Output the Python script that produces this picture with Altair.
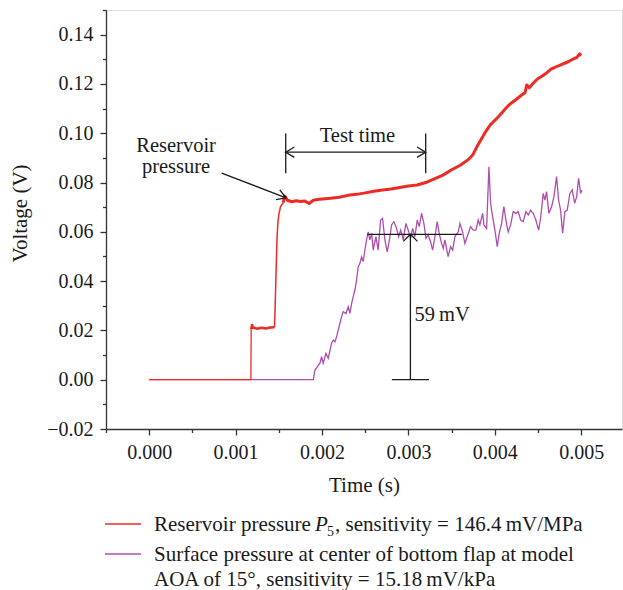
import altair as alt
import pandas as pd

FONT = "Liberation Serif"
RED = "#ee2a24"
PURPLE = "#b04cae"
INK = "#1a1a1a"

# ---- Reservoir pressure P5 (red) ----
red_t = [0.0, 0.001177, 0.00118,
         0.00118, 0.00119, 0.0012, 0.00125, 0.0013, 0.00135, 0.0014, 0.00145,
         0.00145, 0.001455, 0.00147, 0.00148, 0.00149, 0.0015, 0.00152, 0.00155,
         0.00155, 0.00157, 0.0016, 0.00165, 0.0017, 0.00175, 0.0018, 0.00185, 0.0019, 0.00195,
         0.002, 0.0021, 0.0022, 0.0023, 0.0024, 0.0025, 0.0026, 0.0027, 0.0028, 0.0029,
         0.003, 0.0031, 0.0032, 0.0033, 0.0034, 0.0035, 0.0036, 0.0037, 0.00375, 0.0038,
         0.00385, 0.0039, 0.00395, 0.004, 0.00405, 0.0041, 0.00415, 0.0042, 0.00425, 0.0043,
         0.00435, 0.00437, 0.0044, 0.00445, 0.0045, 0.00455, 0.0046, 0.00465, 0.0047, 0.00475,
         0.0048, 0.00485, 0.0049, 0.00495, 0.00498, 0.005]
red_v = [0.0, 0.0, 0.0205,
         0.0205, 0.0222, 0.0212, 0.0207, 0.0211, 0.0208, 0.0212, 0.0213,
         0.0213, 0.026, 0.046, 0.058, 0.064, 0.067, 0.0702, 0.0718,
         0.0718, 0.0745, 0.0728, 0.0722, 0.0726, 0.0723, 0.0725, 0.0715, 0.0728, 0.0731,
         0.0733, 0.0736, 0.0740, 0.0748, 0.0752, 0.0758, 0.0765, 0.0770, 0.0774, 0.0780,
         0.0786, 0.0790, 0.0800, 0.0815, 0.0830, 0.0852, 0.0870, 0.0895, 0.0915, 0.0950,
         0.0980, 0.1010, 0.1035, 0.1052, 0.1070, 0.1090, 0.1110, 0.1125, 0.1138, 0.1152,
         0.1165, 0.1196, 0.1185, 0.1205, 0.1222, 0.1232, 0.1245, 0.1260, 0.1268, 0.1275,
         0.1283, 0.1290, 0.1300, 0.1308, 0.1322, 0.1315]
red_seg = (["base"] * 3 + ["step"] * 8 + ["rise"] * 8 + ["main"] * 56)
seg_width = {"base": 1.3, "step": 2.6, "rise": 1.5, "main": 3.0}

# ---- Surface pressure, bottom flap (purple) ----
purple_t = [0.0, 0.0019, 0.001918, 0.001976, 0.001995, 0.002014, 0.002045, 0.002072, 0.002111, 0.00213,
            0.00215, 0.002169, 0.002207, 0.002227, 0.002245, 0.002277, 0.002303, 0.002323, 0.002343, 0.002361,
            0.002381, 0.0024, 0.002419, 0.002439, 0.002458, 0.002477, 0.002496, 0.002516, 0.002535, 0.002554,
            0.002574, 0.002593, 0.002624, 0.00265, 0.002678, 0.002701, 0.002728, 0.002755, 0.002786, 0.002805,
            0.002832, 0.002863, 0.002887, 0.00291, 0.00294, 0.002971, 0.002998, 0.003025, 0.003049, 0.003075,
            0.003102, 0.003125, 0.003153, 0.003179, 0.003203, 0.003229, 0.003257, 0.00328, 0.003307, 0.003333,
            0.003356, 0.003384, 0.003403, 0.003422, 0.00346, 0.003488, 0.003512, 0.003538, 0.003576, 0.003596,
            0.003627, 0.003654, 0.00368, 0.00372, 0.00375, 0.003781, 0.003808, 0.003827, 0.003859, 0.003874,
            0.003905, 0.003932, 0.003951, 0.003975, 0.004001, 0.004028, 0.004051, 0.004079, 0.004105, 0.004128,
            0.004155, 0.004183, 0.004213, 0.004244, 0.004271, 0.004299, 0.004329, 0.00436, 0.004387, 0.004414,
            0.004444, 0.004475, 0.004507, 0.00453, 0.00456, 0.00458, 0.004599, 0.004626, 0.004657, 0.004684,
            0.004715, 0.004738, 0.004761, 0.004785, 0.004811, 0.004838, 0.004869, 0.004896, 0.004924, 0.004947,
            0.00497, 0.004993, 0.005008]
purple_v = [0.0, 0.0, 0.0039, 0.0067, 0.0093, 0.0067, 0.0107, 0.0087, 0.0148, 0.0161,
            0.0154, 0.0174, 0.0229, 0.0256, 0.0276, 0.0269, 0.0296, 0.0269, 0.0310, 0.0337,
            0.0364, 0.0404, 0.0458, 0.0472, 0.0499, 0.0479, 0.0526, 0.0567, 0.0600, 0.0567,
            0.0594, 0.0526, 0.0580, 0.0526, 0.0648, 0.0655, 0.0567, 0.0519, 0.0580, 0.0628,
            0.0641, 0.0614, 0.0580, 0.0607, 0.0567, 0.0634, 0.0607, 0.0574, 0.0614, 0.0580,
            0.0648, 0.0621, 0.0675, 0.0634, 0.0574, 0.0587, 0.0560, 0.0526, 0.0580, 0.0641,
            0.0594, 0.0553, 0.0533, 0.0567, 0.0499, 0.0540, 0.0526, 0.0580, 0.0600, 0.0634,
            0.0600, 0.0553, 0.0580, 0.0621, 0.0607, 0.0607, 0.0648, 0.0628, 0.0675, 0.0628,
            0.0614, 0.0864, 0.0716, 0.0661, 0.0607, 0.0540, 0.0594, 0.0634, 0.0702, 0.0648,
            0.0600, 0.0628, 0.0682, 0.0675, 0.0682, 0.0648, 0.0641, 0.0682, 0.0668, 0.0688,
            0.0675, 0.0648, 0.0607, 0.0655, 0.0756, 0.0729, 0.0763, 0.0675, 0.0702, 0.0742,
            0.0824, 0.0729, 0.0688, 0.0594, 0.0682, 0.0688, 0.0756, 0.0770, 0.0716, 0.0742,
            0.0817, 0.0756, 0.0770]

# ---- axis ticks ----
x_major = [0.000, 0.001, 0.002, 0.003, 0.004, 0.005]
x_minor = [-0.0005, 0.0005, 0.0015, 0.0025, 0.0035, 0.0045]
y_major = [-0.02, 0.00, 0.02, 0.04, 0.06, 0.08, 0.10, 0.12, 0.14]
y_minor = [-0.01, 0.01, 0.03, 0.05, 0.07, 0.09, 0.11, 0.13, 0.15]

# ---- annotations (data coordinates) ----
test_start, test_end, test_level = 0.00158, 0.0032, 0.0923
bar_low, bar_high = 0.0838, 0.0999
res_arrow_from = (0.000839, 0.0838)
res_arrow_to = (0.001583, 0.0738)
mv_level, mv_t = 0.059, 0.003023
mv_top_span = (0.002522, 0.003618)
mv_bot_span = (0.002808, 0.003238)

red_df = pd.DataFrame({"t": red_t, "v": red_v, "seg": red_seg,
                       "w": [seg_width[s] for s in red_seg],
                       "i": list(range(len(red_t)))})
purple_df = pd.DataFrame({"t": purple_t, "v": purple_v, "i": list(range(len(purple_t)))})

lines_df = pd.DataFrame({
    "t":  [test_start, test_end, test_start, res_arrow_from[0], mv_top_span[0], mv_t, mv_bot_span[0]],
    "v":  [bar_low, bar_low, test_level, res_arrow_from[1], mv_level, 0.0, 0.0],
    "t2": [test_start, test_end, test_end, res_arrow_to[0], mv_top_span[1], mv_t, mv_bot_span[1]],
    "v2": [bar_high, bar_high, test_level, res_arrow_to[1], mv_level, mv_level, 0.0],
})

LEFT = "M 1 -0.6 L 0 0 L 1 0.6"
RIGHT = "M -1 -0.6 L 0 0 L -1 0.6"
UP = "M -1 1 L 0 0 L 1 1"
heads_df = pd.DataFrame({
    "t": [test_start, test_end, res_arrow_to[0], mv_t],
    "v": [test_level, test_level, res_arrow_to[1], mv_level],
    "path": [LEFT, RIGHT, RIGHT, UP],
    "ang": [0, 0, 21, 0],
    "sz": [300, 300, 300, 200],
})

labels_df = pd.DataFrame({
    "t": [0.00241, 0.000311, 0.000311],
    "v": [0.0989, 0.0948, 0.0862],
    "txt": ["Test time", "Reservoir", "pressure"],
})
mv_label_df = pd.DataFrame({"t": [0.00307], "v": [0.0262], "txt": ["59\u2009mV"]})

XS = alt.Scale(domain=[-0.0005, 0.005472], nice=False, zero=False)
YS = alt.Scale(domain=[-0.02, 0.15], nice=False, zero=False)

axis_common = dict(grid=False, domainColor="#333333", domainWidth=1.3, tickColor="#333333",
                   tickWidth=1.3, labelFont=FONT, labelFontSize=20, labelColor=INK,
                   titleFont=FONT, titleFontSize=21, titleColor=INK, titleFontWeight="normal")

x_main_axis = alt.Axis(values=x_major, format=".3f", orient="bottom", tickSize=6, labelPadding=7,
                       title="Time (s)", titlePadding=12, **axis_common)
y_main_axis = alt.Axis(values=y_major, format=".2f", orient="left", tickSize=6, labelPadding=7,
                       title="Voltage (V)", titleAngle=270, titleAlign="center", titleBaseline="middle",
                       titleX=-86, titleY=203, **axis_common)
x_minor_axis = alt.Axis(values=x_minor, orient="bottom", tickSize=3.5, labels=False, domain=False,
                        title="", grid=False, tickColor="#333333", tickWidth=1.3)
y_minor_axis = alt.Axis(values=y_minor, orient="left", tickSize=3.5, labels=False, domain=False,
                        title="", grid=False, tickColor="#333333", tickWidth=1.3)

red_line = alt.Chart(red_df).mark_line(color=RED, strokeJoin="round").encode(
    x=alt.X("t:Q", scale=XS, axis=x_main_axis),
    y=alt.Y("v:Q", scale=YS, axis=y_main_axis),
    detail="seg:N",
    order="i:Q",
    strokeWidth=alt.StrokeWidth("w:Q", scale=None, legend=None),
)

purple_line = alt.Chart(purple_df).mark_line(color=PURPLE, strokeWidth=1.3).encode(
    x=alt.X("t:Q", scale=XS, axis=x_minor_axis),
    y=alt.Y("v:Q", scale=YS, axis=y_minor_axis),
    order="i:Q",
)

ann_lines = alt.Chart(lines_df).mark_rule(color=INK, strokeWidth=1.3).encode(
    x=alt.X("t:Q", scale=XS, axis=None), y=alt.Y("v:Q", scale=YS, axis=None),
    x2="t2:Q", y2="v2:Q",
)

ann_heads = alt.Chart(heads_df).mark_point(filled=False, color=INK, strokeWidth=1.3, opacity=1).encode(
    x=alt.X("t:Q", scale=XS, axis=None), y=alt.Y("v:Q", scale=YS, axis=None),
    shape=alt.Shape("path:N", scale=None, legend=None),
    angle=alt.Angle("ang:Q", scale=None),
    size=alt.Size("sz:Q", scale=None, legend=None),
)

ann_text = alt.Chart(labels_df).mark_text(font=FONT, fontSize=20.5, color=INK, align="center",
                                          baseline="middle").encode(
    x=alt.X("t:Q", scale=XS, axis=None), y=alt.Y("v:Q", scale=YS, axis=None), text="txt:N",
)
mv_text = alt.Chart(mv_label_df).mark_text(font=FONT, fontSize=20.5, color=INK, align="left",
                                           baseline="middle").encode(
    x=alt.X("t:Q", scale=XS, axis=None), y=alt.Y("v:Q", scale=YS, axis=None), text="txt:N",
)

# ---- legend (below the plot) ----
one = pd.DataFrame({"k": [0]})
leg_red = alt.Chart(one).mark_rule(color=RED, strokeWidth=1.5).encode(
    x=alt.value(-1), x2=alt.value(35), y=alt.value(514))
leg_purple = alt.Chart(one).mark_rule(color=PURPLE, strokeWidth=1.5).encode(
    x=alt.value(-1), x2=alt.value(35), y=alt.value(544))


def leg_text(txt, x, y, size=21, style="normal"):
    return alt.Chart(one).mark_text(font=FONT, fontSize=size, color=INK, align="left",
                                    baseline="alphabetic", fontStyle=style).encode(
        x=alt.value(x), y=alt.value(y), text=alt.value(txt))


legend_layers = [
    leg_red, leg_purple,
    leg_text("Reservoir pressure", 48, 521),
    leg_text("P", 209, 521, style="italic"),
    leg_text("5", 221, 526, size=14),
    leg_text(", sensitivity = 146.4\u2009mV/MPa", 229, 521),
    leg_text("Surface pressure at center of bottom flap at model", 48, 551),
    leg_text("AOA of 15\u00b0, sensitivity = 15.18\u2009mV/kPa", 48, 576),
]

chart = alt.layer(
    purple_line, red_line, ann_lines, ann_heads, ann_text, mv_text, *legend_layers
).resolve_axis(x="independent", y="independent").properties(
    width=516, height=419,
    padding={"left": 106, "top": 10, "right": 1, "bottom": 161},
    autosize=alt.AutoSizeParams(type="none"),
).configure_view(stroke=None).configure(background="white")

chart.save("out.html", embed_options={"renderer": "svg", "actions": False})
